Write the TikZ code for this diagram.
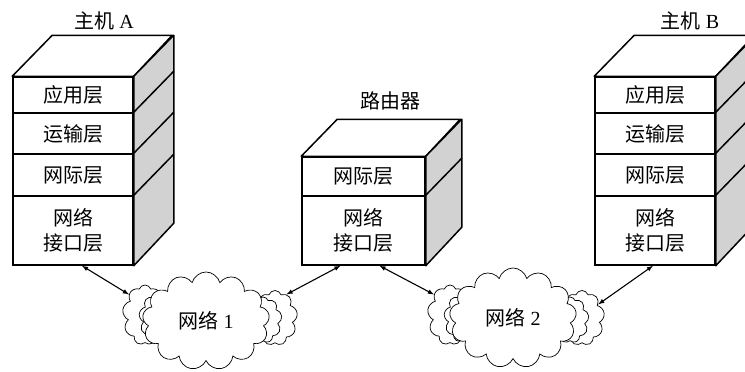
\documentclass[tikz,border=0pt]{standalone}
\usepackage{fontspec}
\setmainfont{Liberation Serif}
\newfontfamily\cjk{Noto Sans CJK SC}
\usetikzlibrary{shapes.symbols}

\begin{document}
\begin{tikzpicture}[x=1pt,y=-1pt]
	\tikzstyle{layer} = [draw, line width=1.5pt, minimum width=120, inner sep=0, align=center, font=\fontsize{20}{25}\selectfont\cjk]
	\tikzstyle{top} = [draw, line width=1.5pt, fill=white, line join=round]
	\tikzstyle{side} = [draw, line width=1.5pt, fill=gray!35, line join=round]
	\tikzstyle{net} = [draw, line width=0.7pt, fill=white, cloud, cloud ignores aspect, inner sep=0, font=\fontsize{20}{25}\selectfont]
	\tikzstyle{puff} = [net, cloud puffs=9, cloud puff arc=140]
	\tikzstyle{link} = [<->, >=latex, line width=1.1pt]
	\useasboundingbox (0,0) rectangle (745,372);

	% host A
	\node [font=\fontsize{20}{25}\selectfont] (ta) at (104,21) {{\cjk 主机} A};
	\node [layer, minimum height=36] (a1) at (73,95) {应用层};
	\node [layer, minimum height=41] (a2) at (73,133.5) {运输层};
	\node [layer, minimum height=42] (a3) at (73,175) {网际层};
	\node [layer, minimum height=69] (a4) at (73,230.5) {网络\\接口层};
	\draw [top] (a1.north west) -- ++(40,-41) -- ++(120,0) -- (a1.north east) -- cycle;
	\draw [side] (a1.north east) -- ++(40,-41) -- ++(0,188) -- (a4.south east) -- cycle;
	\draw [line width=1.5pt] (a2.north east) -- ++(40,-41);
	\draw [line width=1.5pt] (a3.north east) -- ++(40,-41);
	\draw [line width=1.5pt] (a4.north east) -- ++(40,-41);

	% router
	\node [font=\fontsize{20}{25}\selectfont\cjk] (tr) at (390,101) {路由器};
	\node [layer, minimum width=123, minimum height=39] (r1) at (363.5,176.5) {网际层};
	\node [layer, minimum width=123, minimum height=69] (r2) at (363.5,230.5) {网络\\接口层};
	\draw [top] (r1.north west) -- ++(36,-37) -- ++(123,0) -- (r1.north east) -- cycle;
	\draw [side] (r1.north east) -- ++(36,-37) -- ++(0,108) -- (r2.south east) -- cycle;
	\draw [line width=1.5pt] (r2.north east) -- ++(36,-37);

	% host B
	\node [font=\fontsize{20}{25}\selectfont] (tb) at (690,21) {{\cjk 主机} B};
	\node [layer, minimum height=36] (b1) at (655,95) {应用层};
	\node [layer, minimum height=41] (b2) at (655,133.5) {运输层};
	\node [layer, minimum height=42] (b3) at (655,175) {网际层};
	\node [layer, minimum height=69] (b4) at (655,230.5) {网络\\接口层};
	\draw [top] (b1.north west) -- ++(40,-41) -- ++(120,0) -- (b1.north east) -- cycle;
	\draw [side] (b1.north east) -- ++(40,-41) -- ++(0,188) -- (b4.south east) -- cycle;
	\draw [line width=1.5pt] (b2.north east) -- ++(40,-41);
	\draw [line width=1.5pt] (b3.north east) -- ++(40,-41);
	\draw [line width=1.5pt] (b4.north east) -- ++(40,-41);

	% networks
	\node [puff, minimum width=45, minimum height=60] (n1l) at (145,315) {};
	\node [puff, minimum width=38, minimum height=48] (n1l2) at (158,318) {};
	\node [puff, minimum width=45, minimum height=55] (n1r) at (275,318) {};
	\node [puff, minimum width=38, minimum height=46] (n1r2) at (263,320) {};
	\node [net, cloud puffs=13, minimum width=127, minimum height=98] (n1) at (206,321) {{\cjk 网络} 1};
	\node [puff, minimum width=45, minimum height=60] (n2l) at (450,315) {};
	\node [puff, minimum width=38, minimum height=48] (n2l2) at (463,318) {};
	\node [puff, minimum width=45, minimum height=55] (n2r) at (582,318) {};
	\node [puff, minimum width=38, minimum height=46] (n2r2) at (570,320) {};
	\node [net, cloud puffs=13, minimum width=127, minimum height=100] (n2) at (513,318) {{\cjk 网络} 2};

	\draw [link] ([xshift=9]a4.south) -- (n1l.128);
	\draw [link] ([xshift=-23]r2.south) -- (n1r.64);
	\draw [link] ([xshift=16]r2.south) -- (n2l.128);
	\draw [link] ([xshift=-2]b4.south) -- (n2r.40);
\end{tikzpicture}
\end{document}
